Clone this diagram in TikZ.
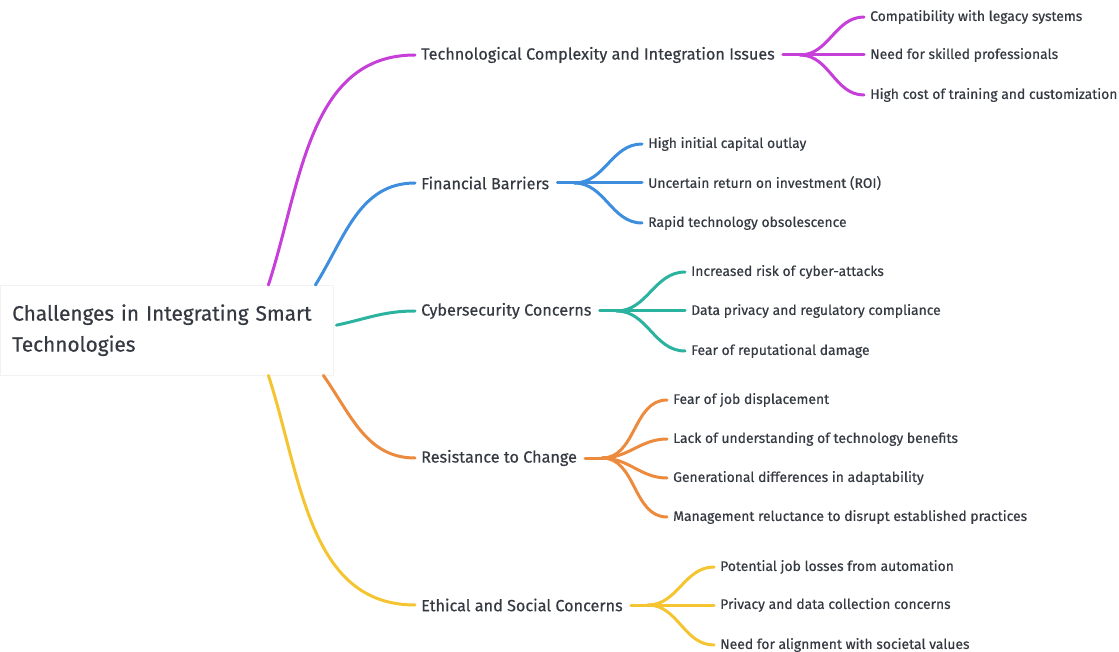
\documentclass[tikz,border=0pt]{standalone}
\usepackage{fontspec}
\setmainfont{Fira Sans}[FakeBold=0.5]
\usepackage{xcolor}
\usepackage{tikz}
\usetikzlibrary{positioning,calc}
\definecolor{txt}{HTML}{353A42}
\definecolor{cpurple}{HTML}{C63FD8}
\definecolor{cblue}{HTML}{3D8EDE}
\definecolor{cteal}{HTML}{2BB3A0}
\definecolor{corange}{HTML}{EC8A3E}
\definecolor{cyellow}{HTML}{F4C530}
\tikzset{
  rootbox/.style={draw=black!5, fill=white, align=left, anchor=north west, text width=309pt, minimum width=333pt, minimum height=90pt, inner xsep=12pt, font=\fontsize{20.8}{29}\selectfont, text=txt},
  branch/.style={anchor=west, inner sep=0pt, font=\fontsize{16.2}{19}\selectfont, text=txt},
  leaf/.style={anchor=west, inner sep=0pt, font=\fontsize{13.9}{16}\selectfont, text=txt},
  link/.style={line width=3pt, line cap=round}
}

\begin{document}
\begin{tikzpicture}[x=1pt, y=-1pt]
  \useasboundingbox (0,0) rectangle (1119,652);
  \node[rootbox] (root) at (0,285) {\vspace{2pt}Challenges in Integrating Smart Technologies};

  \node[branch] (tech) at (421,55) {Technological Complexity and Integration Issues};
  \node[branch] (fin) at (421,183) {Financial Barriers};
  \node[branch] (cyber) at (421,311) {Cybersecurity Concerns};
  \node[branch] (resist) at (421,458) {Resistance to Change};
  \node[branch] (ethic) at (421,605) {Ethical and Social Concerns};

  \node[leaf] (tech1) at (870,17) {Compatibility with legacy systems};
  \node[leaf] (tech2) at (870,55) {Need for skilled professionals};
  \node[leaf] (tech3) at (870,95) {High cost of training and customization};

  \node[leaf] (fin1) at (648,144) {High initial capital outlay};
  \node[leaf] (fin2) at (648,183) {Uncertain return on investment (ROI)};
  \node[leaf] (fin3) at (648,223) {Rapid technology obsolescence};

  \node[leaf] (cyber1) at (691,272) {Increased risk of cyber-attacks};
  \node[leaf] (cyber2) at (691,311) {Data privacy and regulatory compliance};
  \node[leaf] (cyber3) at (691,351) {Fear of reputational damage};

  \node[leaf] (resist1) at (673,400) {Fear of job displacement};
  \node[leaf] (resist2) at (673,439) {Lack of understanding of technology benefits};
  \node[leaf] (resist3) at (673,478) {Generational differences in adaptability};
  \node[leaf] (resist4) at (673,517) {Management reluctance to disrupt established practices};

  \node[leaf] (ethic1) at (720,567) {Potential job losses from automation};
  \node[leaf] (ethic2) at (720,605) {Privacy and data collection concerns};
  \node[leaf] (ethic3) at (720,645) {Need for alignment with societal values};

  % root to branches
  \draw[link, cpurple] ([xshift=-65pt]root.north east) to[out=72, in=180] ([xshift=-6pt]tech.west);
  \draw[link, cblue] ([xshift=-18pt]root.north east) to[out=58, in=180] ([xshift=-6pt]fin.west);
  \draw[link, cteal] ($(root.east)+(3,-5)$) to[out=12, in=180] ([xshift=-6pt]cyber.west);
  \draw[link, corange] ([xshift=-10pt]root.south east) to[out=-55, in=180] ([xshift=-6pt]resist.west);
  \draw[link, cyellow] ([xshift=-65pt]root.south east) to[out=-72, in=180] ([xshift=-6pt]ethic.west);

  % branches to leaves
  \coordinate (techj) at ([xshift=25pt]tech.east);
  \draw[link, cpurple] ([xshift=8pt]tech.east) -- (techj);
  \foreach \l in {tech1,tech2,tech3}
    \draw[link, cpurple] (techj) to[out=0, in=180] ([xshift=-6pt]\l.west);

  \coordinate (finj) at ([xshift=25pt]fin.east);
  \draw[link, cblue] ([xshift=8pt]fin.east) -- (finj);
  \foreach \l in {fin1,fin2,fin3}
    \draw[link, cblue] (finj) to[out=0, in=180] ([xshift=-6pt]\l.west);

  \coordinate (cyberj) at ([xshift=25pt]cyber.east);
  \draw[link, cteal] ([xshift=8pt]cyber.east) -- (cyberj);
  \foreach \l in {cyber1,cyber2,cyber3}
    \draw[link, cteal] (cyberj) to[out=0, in=180] ([xshift=-6pt]\l.west);

  \coordinate (resistj) at ([xshift=25pt]resist.east);
  \draw[link, corange] ([xshift=8pt]resist.east) -- (resistj);
  \foreach \l in {resist1,resist2,resist3,resist4}
    \draw[link, corange] (resistj) to[out=0, in=180] ([xshift=-6pt]\l.west);

  \coordinate (ethicj) at ([xshift=25pt]ethic.east);
  \draw[link, cyellow] ([xshift=8pt]ethic.east) -- (ethicj);
  \foreach \l in {ethic1,ethic2,ethic3}
    \draw[link, cyellow] (ethicj) to[out=0, in=180] ([xshift=-6pt]\l.west);
\end{tikzpicture}
\end{document}
